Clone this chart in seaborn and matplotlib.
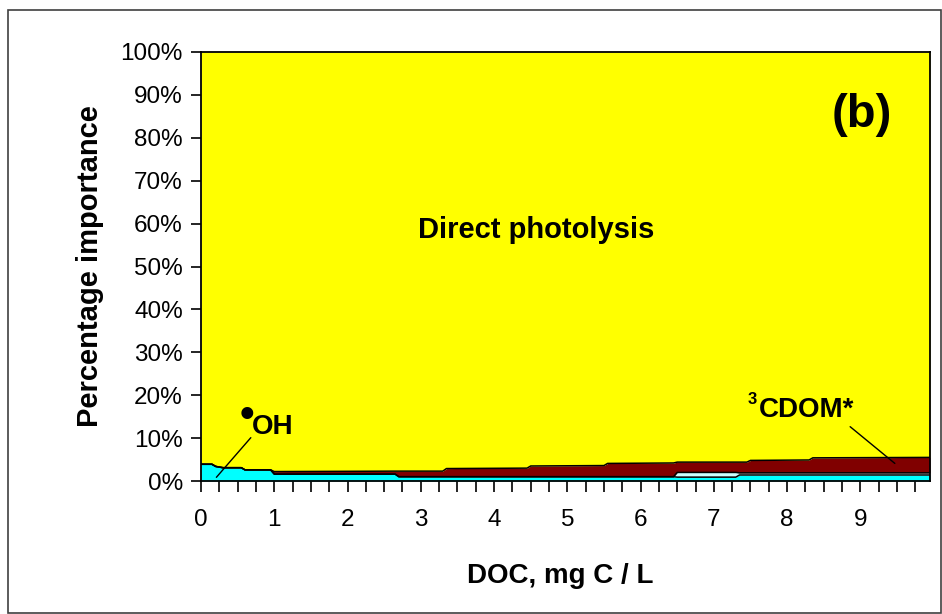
import matplotlib
matplotlib.use("Agg")
import matplotlib.pyplot as plt
import pandas as pd
import seaborn as sns
from matplotlib.patches import Rectangle

# DOC values (mg C / L) where the reaction shares change
doc = [0.0, 0.15, 0.2, 0.3, 0.55, 0.6, 0.95, 1.0, 2.65, 2.7, 3.3, 3.35, 4.45,
       4.5, 5.5, 5.55, 6.45, 6.5, 7.3, 7.35, 7.45, 7.5, 8.3, 8.35, 9.95]
# percentage importance of each pathway (bottom to top of the stack)
oh_pct = [3.9, 3.9, 3.4, 3.1, 3.1, 2.6, 2.6, 1.6, 1.6, 1.0, 1.0, 1.0, 1.0,
          1.0, 1.0, 1.0, 1.0, 0.9, 0.9, 1.4, 1.4, 1.4, 1.4, 1.4, 1.4]
co3_pct = [0, 0, 0, 0, 0, 0, 0, 0, 0, 0, 0, 0, 0,
           0, 0, 0, 0, 1.1, 1.1, 0.5, 0.5, 0.5, 0.5, 0.5, 0.5]
cdom_pct = [0, 0, 0, 0, 0, 0, 0, 0.6, 0.7, 1.3, 1.3, 1.9, 2.0,
            2.5, 2.6, 3.1, 3.2, 2.4, 2.4, 2.5, 2.5, 2.9, 3.0, 3.5, 3.6]

y_ticks = [0, 10, 20, 30, 40, 50, 60, 70, 80, 90, 100]
y_tick_labels = [f"{v}%" for v in y_ticks]
x_tick_labels = ["0", "1", "2", "3", "4", "5", "6", "7", "8", "9"]

df = pd.DataFrame({"doc": doc, "oh": oh_pct, "co3": co3_pct, "cdom": cdom_pct})
df["direct"] = 100 - df["oh"] - df["co3"] - df["cdom"]
df["c1"] = df["oh"]
df["c2"] = df["c1"] + df["co3"]
df["c3"] = df["c2"] + df["cdom"]
df["c4"] = df["c3"] + df["direct"]

sns.set_style("ticks")
plt.rcParams["font.family"] = ["Liberation Sans", "DejaVu Sans"]
plt.rcParams["text.color"] = "black"
plt.rcParams["axes.labelcolor"] = "black"
plt.rcParams["xtick.color"] = "black"
plt.rcParams["ytick.color"] = "black"

fig = plt.figure(figsize=(9.42, 6.14), dpi=100)
ax = fig.add_axes([201 / 942, 1 - 481 / 614, (930 - 201) / 942, (481 - 52) / 614])

layers = [(0, "c1", "#00FFFF"), ("c1", "c2", "#CCFFFF"),
          ("c2", "c3", "#800000"), ("c3", "c4", "#FFFF00")]
for lo, hi, color in layers:
    low = 0 if lo == 0 else df[lo]
    ax.fill_between(df["doc"], low, df[hi], color=color, lw=0, zorder=1)

for col in ["c1", "c2", "c3"]:
    sns.lineplot(data=df, x="doc", y=col, ax=ax, color="black", lw=1.1,
                 zorder=2, estimator=None, sort=False)

ax.set_xlim(0, 9.95)
ax.set_ylim(0, 100)

xt = [i * 0.25 for i in range(40)]
ax.set_xticks(xt)
ax.set_xticklabels([x_tick_labels[int(v)] if float(v).is_integer() else "" for v in xt])
ax.set_yticks(y_ticks)
ax.set_yticklabels(y_tick_labels)
ax.tick_params(axis="x", direction="out", length=8, width=1.2, color="black",
               labelsize=17.5, pad=12, labelcolor="black")
ax.tick_params(axis="y", direction="out", length=7, width=1.2, color="black",
               labelsize=17.5, pad=6, labelcolor="black")

for side in ["left", "bottom", "top", "right"]:
    ax.spines[side].set_visible(True)
    ax.spines[side].set_color("black")
    ax.spines[side].set_linewidth(1.3)
    ax.spines[side].set_zorder(5)

ax.set_xlabel("DOC, mg C / L", fontsize=20, fontweight="bold", color="black")
ax.xaxis.set_label_coords(0.493, -0.19)
ax.set_ylabel("Percentage importance", fontsize=21, fontweight="bold", labelpad=12,
              color="black")

ax.text(4.58, 58.5, "Direct photolysis", fontsize=21, fontweight="bold",
        ha="center", va="center", zorder=6, color="black")
ax.text(9.02, 85.3, "(b)", fontsize=34, fontweight="bold",
        ha="center", va="center", zorder=6, color="black")

# hydroxyl radical label with leader line
ax.text(0.63, 15.2, "\u2022", fontsize=30, fontweight="bold",
        ha="center", va="center", zorder=6, color="black")
ax.text(0.70, 12.5, "OH", fontsize=20, fontweight="bold",
        ha="left", va="center", zorder=6, color="black")
ax.plot([0.21, 0.68], [0.86, 10.1], color="black", lw=1, zorder=6)

# triplet CDOM label with leader line
ax.text(7.46, 19.1, "3", fontsize=12, fontweight="bold",
        ha="left", va="center", zorder=6, color="black")
ax.text(7.62, 16.5, "CDOM*", fontsize=20, fontweight="bold",
        ha="left", va="center", zorder=6, color="black")
ax.plot([8.86, 9.47], [12.66, 4.1], color="black", lw=1, zorder=6)

fig.patches.append(Rectangle((8 / 942, 1 / 614), 933 / 942, 603 / 614,
                             transform=fig.transFigure, fill=False,
                             edgecolor="#404040", lw=1.2))

fig.savefig("out.png", dpi=100)
